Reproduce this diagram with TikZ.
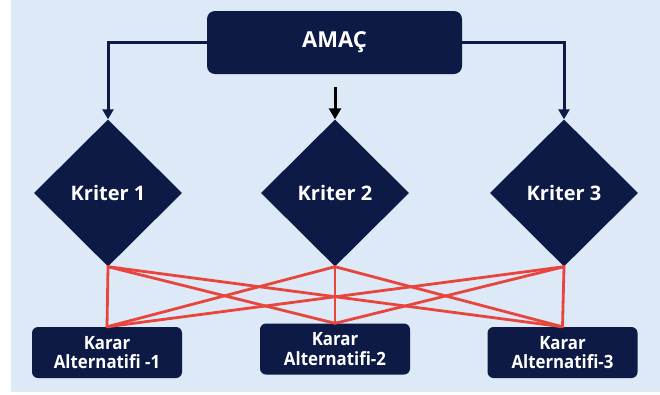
\documentclass[tikz,border=0pt]{standalone}
\usepackage{fontspec}
\setmainfont{Open Sans}
\newfontfamily\altfont{Open Sans}[FakeStretch=0.92]
\usetikzlibrary{shapes.geometric,arrows.meta}
\definecolor{navy}{HTML}{0C1A45}
\definecolor{bgblue}{HTML}{DDE9F7}
\definecolor{redline}{HTML}{E8453C}
\tikzset{
  goal/.style={fill=navy, rounded corners=8pt, minimum width=255pt, minimum height=63pt, inner sep=0pt, text=white, font=\fontsize{22}{26}\selectfont\bfseries},
  crit/.style={diamond, fill=navy, minimum width=148pt, minimum height=147pt, inner sep=0pt, aspect=1, text=white, font=\fontsize{20}{24}\selectfont\bfseries},
  alt/.style={fill=navy, rounded corners=6pt, minimum width=150pt, minimum height=51pt, inner sep=0pt, text=white, align=center, font=\altfont\fontsize{18.3}{19.5}\selectfont\bfseries},
  feed/.style={draw=navy, line width=3pt, -{Triangle[width=11pt,length=10pt]}},
  feedblack/.style={draw=black, line width=3pt, -{Triangle[width=12pt,length=11pt]}},
  link/.style={draw=redline, line width=2.8pt}
}
\begin{document}
\begin{tikzpicture}[x=1pt,y=-1pt]
\useasboundingbox (0,0) rectangle (660,394);
\fill[white] (0,0) rectangle (660,394);
\fill[bgblue] (11,0) rectangle (660,392);

\node[goal] (goal) at (334.5,42.5) {AMAÇ};

\node[crit] (k1) at (108,193) {Kriter 1};
\node[crit] (k2) at (335,193) {Kriter 2};
\node[crit] (k3) at (564,193) {Kriter 3};

\node[alt] (a1) at (107,352.5) {Karar\\Alternatifi -1};
\node[alt] (a2) at (335,349) {Karar\\Alternatifi-2};
\node[alt] (a3) at (562.5,352.5) {Karar\\Alternatifi-3};

\coordinate (m) at (335,87);

\draw[feed] (goal.west) -| (k1.north);
\draw[feed] (goal.east) -| (k3.north);
\draw[feedblack] (m) -- (k2.north);

\foreach \k in {k1,k2,k3}{
  \foreach \a in {a1,a2,a3}{
    \draw[link, line cap=round] (\k.south) -- (\a.north);
  }
}
\end{tikzpicture}
\end{document}
